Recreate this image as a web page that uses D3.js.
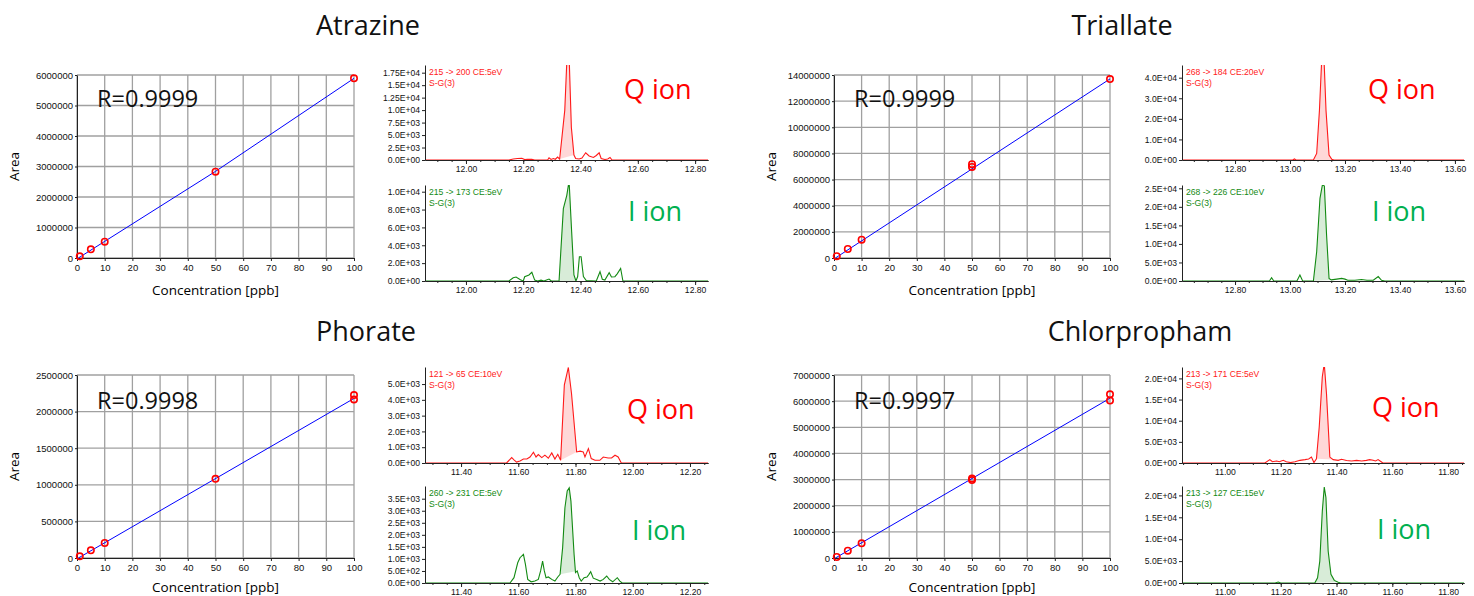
<!DOCTYPE html>
<html>
<head>
<meta charset="utf-8">
<script src="https://cdn.jsdelivr.net/npm/d3@7"></script>
<style>
  body { margin: 0; background: #fff; }
  svg { display: block; }
  text { font-family: "Liberation Sans", Arial, sans-serif; }
</style>
</head>
<body>
<svg id="chart" width="1474" height="596"></svg>
<script>
// ---- data ----
const compounds = ["Atrazine", "Triallate", "Phorate", "Chlorpropham"];
const rLabels = ["R=0.9999", "R=0.9999", "R=0.9998", "R=0.9997"];

// calibration points [conc ppb, area]
const atrazineCal = [[1, 55000], [5, 285000], [10, 535000], [50, 2830000], [100, 5890000]];
const triallateCal = [[1, 140000], [5, 690000], [10, 1405000], [50, 7180000], [50, 6970000], [100, 13690000]];
const phorateCal = [[1, 23000], [5, 105000], [10, 205000], [50, 1081000], [100, 2226000], [100, 2167000]];
const chlorprophamCal = [[1, 38000], [5, 281000], [10, 562000], [50, 3040000], [50, 2980000], [100, 6260000], [100, 6020000]];

// calibration curves (points along the drawn fit)
const atrazineFit = [[0.5, 0], [10, 545000], [50, 2840000], [100, 5890000]];
const triallateFit = [[0.5, 0], [100, 13700000]];
const phorateFit = [[0.5, 0], [100, 2180000]];
const chlorprophamFit = [[0.5, 0], [100, 6110000]];

// calibration y axes
const calMax = [6000000, 14000000, 2500000, 7000000];
const calStep = [1000000, 2000000, 500000, 1000000];

// chromatograms [time min, intensity]
const atrazineQ = [[11.857, 0], [12.15, 0], [12.165, 200], [12.18, 300], [12.195, 330], [12.205, 80], [12.215, 150], [12.23, 120], [12.24, 0], [12.285, 0], [12.29, 450], [12.297, 120], [12.305, 300], [12.312, 150], [12.32, 600], [12.327, 180], [12.335, 4500], [12.345, 10000], [12.353, 21000], [12.36, 21000], [12.368, 6500], [12.377, 1000], [12.383, 300], [12.395, 200], [12.405, 400], [12.418, 1450], [12.43, 800], [12.445, 500], [12.455, 900], [12.465, 1450], [12.472, 300], [12.485, 100], [12.495, 200], [12.503, 500], [12.51, 0], [12.845, 0]];
const atrazineI = [[11.857, 0], [12.15, 0], [12.165, 370], [12.175, 450], [12.19, 150], [12.2, 0], [12.205, 480], [12.22, 670], [12.23, 970], [12.24, 100], [12.25, 0], [12.262, 100], [12.272, 0], [12.29, 220], [12.298, 0], [12.325, 0], [12.34, 8100], [12.352, 9600], [12.36, 11200], [12.369, 5500], [12.377, 670], [12.384, 0], [12.39, 500], [12.396, 2720], [12.402, 2720], [12.41, 500], [12.42, 50], [12.455, 0], [12.468, 1040], [12.476, 200], [12.485, 100], [12.5, 930], [12.508, 450], [12.52, 480], [12.528, 800], [12.54, 1400], [12.548, 0], [12.845, 0]];
const triallateQ = [[12.607, 0], [13.01, 0], [13.016, 500], [13.022, 0], [13.085, 0], [13.097, 3200], [13.107, 24000], [13.115, 48000], [13.124, 48000], [13.131, 24000], [13.142, 2400], [13.152, 300], [13.16, 0], [13.633, 0]];
const triallateI = [[12.607, 0], [12.925, 0], [12.933, 900], [12.941, 0], [13.025, 0], [13.036, 1600], [13.046, 0], [13.085, 0], [13.097, 7900], [13.109, 22300], [13.118, 26000], [13.125, 25600], [13.133, 12400], [13.142, 700], [13.15, 300], [13.17, 500], [13.188, 700], [13.2, 500], [13.21, 200], [13.236, 200], [13.26, 400], [13.28, 200], [13.303, 200], [13.321, 1200], [13.333, 200], [13.345, 0], [13.633, 0]];
const phorateQ = [[11.274, 0], [11.559, 0], [11.577, 340], [11.585, 200], [11.594, 60], [11.606, 130], [11.618, 250], [11.63, 250], [11.641, 380], [11.653, 680], [11.662, 380], [11.67, 530], [11.682, 340], [11.693, 500], [11.705, 300], [11.717, 640], [11.728, 250], [11.738, 550], [11.748, 170], [11.761, 4950], [11.775, 6050], [11.786, 4400], [11.804, 700], [11.816, 750], [11.827, 700], [11.833, 380], [11.845, 910], [11.855, 280], [11.868, 170], [11.885, 170], [11.897, 380], [11.914, 320], [11.926, 320], [11.938, 490], [11.949, 380], [11.96, 0], [12.263, 0]];
const phorateI = [[11.274, 0], [11.571, 0], [11.585, 220], [11.598, 840], [11.606, 1050], [11.618, 1190], [11.625, 770], [11.633, 150], [11.645, 50], [11.658, 80], [11.67, 150], [11.678, 500], [11.685, 910], [11.691, 500], [11.697, 220], [11.705, 250], [11.717, 150], [11.728, 80], [11.738, 250], [11.746, 360], [11.755, 1470], [11.763, 3125], [11.771, 3820], [11.778, 3950], [11.784, 3400], [11.795, 1190], [11.8, 430], [11.806, 500], [11.813, 220], [11.82, 80], [11.83, 220], [11.84, 250], [11.847, 360], [11.853, 470], [11.862, 200], [11.874, 150], [11.886, 80], [11.897, 150], [11.909, 290], [11.918, 150], [11.93, 50], [11.946, 220], [11.955, 80], [11.963, 0], [12.263, 0]];
const chlorprophamQ = [[10.846, 0], [11.143, 0], [11.161, 800], [11.17, 300], [11.185, 470], [11.195, 300], [11.209, 630], [11.22, 300], [11.235, 100], [11.251, 300], [11.269, 630], [11.287, 800], [11.3, 950], [11.31, 1400], [11.319, 100], [11.328, 1000], [11.338, 8500], [11.349, 20400], [11.356, 23500], [11.364, 16400], [11.376, 1400], [11.388, 800], [11.406, 630], [11.418, 870], [11.436, 600], [11.454, 470], [11.472, 630], [11.49, 470], [11.507, 630], [11.519, 800], [11.531, 630], [11.54, 470], [11.549, 800], [11.56, 300], [11.566, 0], [11.857, 0]];
const chlorprophamI = [[10.846, 0], [11.18, 0], [11.191, 230], [11.2, 0], [11.322, 0], [11.332, 1200], [11.34, 5000], [11.349, 16400], [11.356, 21900], [11.362, 19500], [11.37, 7300], [11.38, 2000], [11.392, 600], [11.406, 150], [11.415, 0], [11.857, 0]];

// peak integration windows [start, end]
const qPeaks = [[12.327, 12.377], [13.085, 13.16], [11.748, 11.804], [11.328, 11.388]];
const iPeaks = [[12.325, 12.384], [13.085, 13.15], [11.746, 11.806], [11.322, 11.406]];

// time axis ranges and intensity axis tops
const timeRanges = [[11.857, 12.845], [12.607, 13.633], [11.274, 12.263], [10.846, 11.857]];
const qTops = [19040, 46170, 6080, 22700];
const iTops = [10750, 25890, 4027, 22150];
const qTicks = [[0, 2500, 5000, 7500, 10000, 12500, 15000, 17500], [0, 10000, 20000, 30000, 40000], [0, 1000, 2000, 3000, 4000, 5000], [0, 5000, 10000, 15000, 20000]];
const iTicks = [[0, 2000, 4000, 6000, 8000, 10000], [0, 5000, 10000, 15000, 20000, 25000], [0, 500, 1000, 1500, 2000, 2500, 3000, 3500], [0, 5000, 10000, 15000, 20000]];

// transition labels
const qTransitions = ["215 -> 200 CE:5eV", "268 -> 184 CE:20eV", "121 -> 65 CE:10eV", "213 -> 171 CE:5eV"];
const iTransitions = ["215 -> 173 CE:5eV", "268 -> 226 CE:10eV", "260 -> 231 CE:5eV", "213 -> 127 CE:15eV"];

const calData = [atrazineCal, triallateCal, phorateCal, chlorprophamCal];
const fitData = [atrazineFit, triallateFit, phorateFit, chlorprophamFit];
const qData = [atrazineQ, triallateQ, phorateQ, chlorprophamQ];
const iData = [atrazineI, triallateI, phorateI, chlorprophamI];

// ---- layout (pixel boxes) ----
const layout = [
    { titleX: 368, titleY: 35, cal: { left: 77, right: 354, top: 75, bottom: 258, rDy: 32, xtDy: 37 },
      q: { left: 425, right: 708, top: 65, bottom: 160, lx: 624, ly: 99 },
      i: { left: 425, right: 708, top: 185, bottom: 281, lx: 628, ly: 221 } },
    { titleX: 1122, titleY: 35, cal: { left: 834, right: 1110, top: 75, bottom: 258, rDy: 32, xtDy: 37 },
      q: { left: 1182, right: 1464, top: 65, bottom: 160, lx: 1368, ly: 99 },
      i: { left: 1182, right: 1464, top: 185, bottom: 281, lx: 1372, ly: 221 } },
    { titleX: 366, titleY: 341, cal: { left: 77, right: 354, top: 375, bottom: 558, rDy: 34, xtDy: 34 },
      q: { left: 425, right: 708, top: 367, bottom: 463, lx: 627, ly: 419 },
      i: { left: 425, right: 708, top: 486, bottom: 583, lx: 632, ly: 540 } },
    { titleX: 1140, titleY: 341, cal: { left: 834, right: 1110, top: 375, bottom: 558, rDy: 34, xtDy: 34 },
      q: { left: 1182, right: 1464, top: 367, bottom: 463, lx: 1372, ly: 417 },
      i: { left: 1182, right: 1464, top: 486, bottom: 583, lx: 1377, ly: 539 } }
];

const svg = d3.select("#chart");
svg.append("rect").attr("width", 1474).attr("height", 596).attr("fill", "#fff");

function fmtE(v) {
    if (v === 0) return "0.0E+00";
    let parts = v.toExponential().split("e");
    let m = parts[0];
    if (!m.includes(".")) m += ".0";
    const ex = parseInt(parts[1]);
    return m + "E" + (ex < 0 ? "-" : "+") + String(Math.abs(ex)).padStart(2, "0");
}

function styleAxis(g, size) {
    g.select(".domain").attr("stroke", "#222").attr("stroke-width", 1);
    g.selectAll(".tick line").attr("stroke", "#222");
    g.selectAll(".tick text").attr("fill", "#111")
        .style("font-family", "'Liberation Sans', Arial, sans-serif")
        .style("font-size", size + "px");
}

function drawCal(k) {
    const b = layout[k].cal;
    const g = svg.append("g");
    const x = d3.scaleLinear().domain([0, 100]).range([b.left, b.right]);
    const y = d3.scaleLinear().domain([0, calMax[k]]).range([b.bottom, b.top]);
    const yTicks = d3.range(0, calMax[k] + 1, calStep[k]);

    g.selectAll(".vg").data(x.ticks(10)).join("line")
        .attr("x1", d => x(d)).attr("x2", d => x(d))
        .attr("y1", b.top).attr("y2", b.bottom)
        .attr("stroke", "#a0a0a0").attr("stroke-width", 1.3);
    g.selectAll(".hg").data(yTicks).join("line")
        .attr("x1", b.left).attr("x2", b.right)
        .attr("y1", d => y(d)).attr("y2", d => y(d))
        .attr("stroke", "#a0a0a0").attr("stroke-width", 1.3);

    const ya = g.append("g").attr("transform", "translate(" + b.left + ",0)")
        .call(d3.axisLeft(y).tickValues(yTicks).tickFormat(d3.format("d")).tickSize(2).tickPadding(2).tickSizeOuter(0));
    styleAxis(ya, 9.5);
    const xa = g.append("g").attr("transform", "translate(0," + b.bottom + ")")
        .call(d3.axisBottom(x).ticks(10).tickSize(3).tickPadding(3).tickSizeOuter(0));
    styleAxis(xa, 9.5);

    g.append("text")
        .attr("x", (b.left + b.right) / 2).attr("y", b.bottom + b.xtDy)
        .attr("text-anchor", "middle")
        .style("font-family", "'Open Sans', sans-serif").style("font-size", "13.5px")
        .text("Concentration [ppb]");
    g.append("text")
        .attr("transform", "translate(" + (b.left - 58) + "," + ((b.top + b.bottom) / 2) + ") rotate(-90)")
        .attr("text-anchor", "middle")
        .style("font-family", "'Open Sans', sans-serif").style("font-size", "13.5px")
        .text("Area");

    g.append("path").datum(fitData[k])
        .attr("d", d3.line().x(d => x(d[0])).y(d => y(d[1])))
        .attr("fill", "none").attr("stroke", "#0000ff").attr("stroke-width", 1);
    g.selectAll(".pt").data(calData[k]).join("circle")
        .attr("cx", d => x(d[0])).attr("cy", d => y(d[1])).attr("r", 3.2)
        .attr("fill", "none").attr("stroke", "#ff0000").attr("stroke-width", 1.6);

    g.append("text")
        .attr("x", b.left + 20).attr("y", b.top + b.rDy)
        .style("font-family", "'Open Sans', sans-serif").style("font-size", "23.5px")
        .attr("fill", "#111")
        .text(rLabels[k]);
}

function drawChrom(k, b, trace, peak, top, ticks, transition, color, fill, label, labelColor, id) {
    const g = svg.append("g");
    const x = d3.scaleLinear().domain(timeRanges[k]).range([b.left, b.right]);
    const y = d3.scaleLinear().domain([0, top]).range([b.bottom, b.top]);

    svg.append("clipPath").attr("id", id).append("rect")
        .attr("x", b.left).attr("y", b.top)
        .attr("width", b.right - b.left).attr("height", b.bottom - b.top);

    const line = d3.line().x(d => x(d[0])).y(d => y(d[1]));
    const area = trace.filter(d => d[0] >= peak[0] && d[0] <= peak[1]);
    g.append("path").datum(area)
        .attr("d", d => line(d) + "Z")
        .attr("clip-path", "url(#" + id + ")")
        .attr("fill", fill).attr("stroke", "none");
    g.append("path").datum(trace)
        .attr("d", line)
        .attr("clip-path", "url(#" + id + ")")
        .attr("fill", "none").attr("stroke", color).attr("stroke-width", 1.1);

    const xa = g.append("g").attr("transform", "translate(0," + b.bottom + ")")
        .call(d3.axisBottom(x).ticks(20).tickFormat("").tickSize(2).tickSizeOuter(0));
    styleAxis(xa, 8.6);
    const xb = g.append("g").attr("transform", "translate(0," + b.bottom + ")")
        .call(d3.axisBottom(x).ticks(5).tickFormat(d3.format(".2f")).tickSize(4).tickPadding(2).tickSizeOuter(0));
    styleAxis(xb, 8.6);
    const ya = g.append("g").attr("transform", "translate(" + b.left + ",0)")
        .call(d3.axisLeft(y).tickValues(ticks).tickFormat(fmtE).tickSize(3).tickPadding(2).tickSizeOuter(0));
    styleAxis(ya, 8.6);

    g.append("text").attr("x", b.left + 4).attr("y", b.top + 10)
        .attr("fill", color).style("font-size", "8.6px").text(transition);
    g.append("text").attr("x", b.left + 4).attr("y", b.top + 21)
        .attr("fill", color).style("font-size", "8.6px").text("S-G(3)");

    g.append("text").attr("x", b.lx).attr("y", b.ly)
        .attr("fill", labelColor)
        .style("font-family", "'Open Sans', sans-serif").style("font-size", "27px")
        .text(label);
}

compounds.forEach((name, k) => {
    const L = layout[k];
    svg.append("text")
        .attr("x", L.titleX).attr("y", L.titleY)
        .attr("text-anchor", "middle")
        .style("font-family", "'Open Sans', sans-serif").style("font-size", "27px")
        .attr("fill", "#111")
        .text(name);
    drawCal(k);
    drawChrom(k, L.q, qData[k], qPeaks[k], qTops[k], qTicks[k], qTransitions[k],
        "#ff1a1a", "rgba(255,60,60,0.2)", "Q ion", "#ff0000", "clipQ" + k);
    drawChrom(k, L.i, iData[k], iPeaks[k], iTops[k], iTicks[k], iTransitions[k],
        "#138a13", "rgba(40,150,40,0.18)", "I ion", "#00b050", "clipI" + k);
});
</script>
</body>
</html>
